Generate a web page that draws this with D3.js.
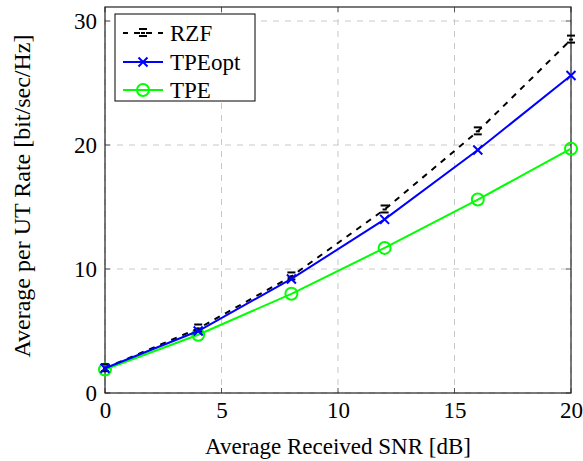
<!DOCTYPE html>
<html><head><meta charset="utf-8">
<script src="https://cdn.jsdelivr.net/npm/d3@7"></script>
<style>body{margin:0;background:#fff}svg{display:block}</style>
</head><body>
<svg id="c" width="583" height="461"></svg>
<script>
const snr = [0, 4, 8, 12, 16, 20];
const rzf = [2.0, 5.2, 9.4, 14.8, 21.1, 28.5];
const tpeOpt = [2.0, 5.0, 9.2, 14.0, 19.6, 25.6];
const tpe = [1.9, 4.7, 8.0, 11.7, 15.6, 19.7];
const xTicks = [0, 5, 10, 15, 20];
const yTicks = [0, 10, 20, 30];
const seriesNames = ["RZF", "TPEopt", "TPE"];

const FONT = "Liberation Serif";
const svg = d3.select("#c");
const L = 105, R = 571, T = 7, B = 393;
const x = d3.scaleLinear().domain([0, 20]).range([L, R]);
const y = d3.scaleLinear().domain([0, 30]).range([B, 21]);

// grid
const g = svg.append("g");
xTicks.forEach(t => g.append("line").attr("x1", x(t)).attr("x2", x(t)).attr("y1", T).attr("y2", B)
  .attr("stroke", "#c8c8c8").attr("stroke-width", 1).attr("stroke-dasharray", "6,6"));
yTicks.forEach(t => g.append("line").attr("x1", L).attr("x2", R).attr("y1", y(t)).attr("y2", y(t))
  .attr("stroke", "#c8c8c8").attr("stroke-width", 1).attr("stroke-dasharray", "6,6"));

// axes
const xAxis = d3.axisBottom(x).tickValues(xTicks).tickSize(0).tickPadding(8);
const xg = svg.append("g").attr("transform", `translate(0,${B})`).call(xAxis);
xg.select(".domain").remove();
xg.selectAll("text").style("font-family", FONT).style("font-size", "23px").attr("dy", null).attr("y", 25);
const yAxis = d3.axisLeft(y).tickValues(yTicks).tickSize(0).tickPadding(8);
const yg = svg.append("g").attr("transform", `translate(${L},0)`).call(yAxis);
yg.select(".domain").remove();
yg.selectAll("text").style("font-family", FONT).style("font-size", "23px").attr("x", -8);

// tick marks inside
xTicks.forEach(t => {
  svg.append("line").attr("x1", x(t)).attr("x2", x(t)).attr("y1", B).attr("y2", B - 5).attr("stroke", "#555");
  svg.append("line").attr("x1", x(t)).attr("x2", x(t)).attr("y1", T).attr("y2", T + 5).attr("stroke", "#555");
});
yTicks.forEach(t => {
  svg.append("line").attr("x1", L).attr("x2", L + 5).attr("y1", y(t)).attr("y2", y(t)).attr("stroke", "#555");
  svg.append("line").attr("x1", R).attr("x2", R - 5).attr("y1", y(t)).attr("y2", y(t)).attr("stroke", "#555");
});

// frame
svg.append("rect").attr("x", L).attr("y", T).attr("width", R - L).attr("height", B - T)
  .attr("fill", "none").attr("stroke", "#222").attr("stroke-width", 1.2);

// axis labels
svg.append("text").attr("x", 338).attr("y", 454).attr("text-anchor", "middle")
  .style("font-size", "23px").style("font-family", FONT).text("Average Received SNR [dB]");
svg.append("text").attr("transform", `translate(30,196) rotate(-90)`).attr("text-anchor", "middle")
  .style("font-size", "24px").style("font-family", FONT).text("Average per UT Rate [bit/sec/Hz]");

const line = d3.line().x((d, i) => x(snr[i])).y(d => y(d));
const plot = svg.append("g");

function rzfMark(gg, cx, cy) {
  gg.append("line").attr("x1", cx - 4).attr("x2", cx + 4).attr("y1", cy - 4).attr("y2", cy - 4).attr("stroke", "#000").attr("stroke-width", 2);
  gg.append("line").attr("x1", cx - 4).attr("x2", cx + 4).attr("y1", cy + 3).attr("y2", cy + 3).attr("stroke", "#000").attr("stroke-width", 2);
  gg.append("line").attr("x1", cx - 2).attr("x2", cx + 2).attr("y1", cy).attr("y2", cy).attr("stroke", "#000").attr("stroke-width", 2);
}
function xMark(gg, cx, cy) {
  const s = 4.5;
  gg.append("path").attr("d", `M${cx - s},${cy - s}L${cx + s},${cy + s}M${cx - s},${cy + s}L${cx + s},${cy - s}`)
    .attr("stroke", "#0000ff").attr("stroke-width", 2).attr("fill", "none");
}
function oMark(gg, cx, cy) {
  gg.append("circle").attr("cx", cx).attr("cy", cy).attr("r", 6).attr("fill", "none").attr("stroke", "#00ff00").attr("stroke-width", 2);
}

plot.append("path").datum(tpe).attr("d", line).attr("fill", "none").attr("stroke", "#00ff00").attr("stroke-width", 2);
tpe.forEach((v, i) => oMark(plot, x(snr[i]), y(v)));
plot.append("path").datum(rzf).attr("d", line).attr("fill", "none").attr("stroke", "#000").attr("stroke-width", 2).attr("stroke-dasharray", "6,6");
rzf.forEach((v, i) => rzfMark(plot, x(snr[i]), y(v)));
plot.append("path").datum(tpeOpt).attr("d", line).attr("fill", "none").attr("stroke", "#0000ff").attr("stroke-width", 2);
tpeOpt.forEach((v, i) => xMark(plot, x(snr[i]), y(v)));

// legend
const lg = svg.append("g");
lg.append("rect").attr("x", 115).attr("y", 14).attr("width", 140).attr("height", 87).attr("fill", "#fff").attr("stroke", "#000").attr("stroke-width", 1);
const rows = [33, 62, 90];
const styles = [
  {c: "#000", d: "6,6", m: rzfMark},
  {c: "#0000ff", d: null, m: xMark},
  {c: "#00ff00", d: null, m: oMark}
];
seriesNames.forEach((n, i) => {
  const yy = rows[i];
  const ln = lg.append("line").attr("x1", 123).attr("x2", 163).attr("y1", yy).attr("y2", yy)
    .attr("stroke", styles[i].c).attr("stroke-width", 2);
  if (styles[i].d) ln.attr("stroke-dasharray", "6,6").attr("stroke-dashoffset", "1");
  styles[i].m(lg, 143, yy);
  lg.append("text").attr("x", 170).attr("y", yy + 8).style("font-size", "23px").style("font-family", FONT).text(n);
});
</script>
</body></html>
